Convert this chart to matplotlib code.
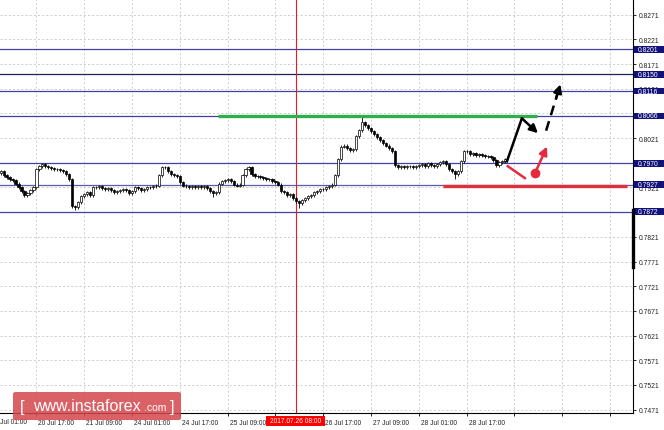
import numpy as np
import matplotlib
matplotlib.use("Agg")
import matplotlib.pyplot as plt
import matplotlib.transforms as mtransforms
from matplotlib.patches import Rectangle, FancyBboxPatch

# hourly closes (bar by bar)
closes = [
    0.7954, 0.7946, 0.7942, 0.7938, 0.7936, 0.7929, 0.7921, 0.7913, 0.7905, 0.7909,
    0.7915, 0.7921, 0.7958, 0.7964, 0.7968, 0.7964, 0.7962, 0.7960, 0.7958, 0.7958,
    0.7956, 0.7954, 0.7948, 0.7938, 0.7883, 0.7881, 0.7891, 0.7903, 0.7907, 0.7911,
    0.7905, 0.7921, 0.7921, 0.7923, 0.7919, 0.7917, 0.7919, 0.7915, 0.7911, 0.7913,
    0.7915, 0.7917, 0.7915, 0.7909, 0.7913, 0.7921, 0.7919, 0.7915, 0.7917, 0.7921,
    0.7921, 0.7923, 0.7925, 0.7946, 0.7962, 0.7962, 0.7954, 0.7948, 0.7946, 0.7944,
    0.7932, 0.7925, 0.7923, 0.7921, 0.7923, 0.7921, 0.7923, 0.7921, 0.7923, 0.7919,
    0.7913, 0.7909, 0.7911, 0.7929, 0.7934, 0.7936, 0.7938, 0.7934, 0.7927, 0.7925,
    0.7927, 0.7946, 0.7958, 0.7962, 0.7948, 0.7944, 0.7944, 0.7942, 0.7940, 0.7938,
    0.7938, 0.7934, 0.7932, 0.7927, 0.7913, 0.7911, 0.7905, 0.7907, 0.7899, 0.7893,
    0.7889, 0.7895, 0.7899, 0.7903, 0.7905, 0.7911, 0.7913, 0.7917, 0.7917, 0.7921,
    0.7923, 0.7927, 0.7946, 0.7978, 0.8004, 0.8006, 0.8000, 0.7996, 0.7998, 0.8025,
    0.8037, 0.8053, 0.8047, 0.8041, 0.8035, 0.8029, 0.8023, 0.8017, 0.8011, 0.8006,
    0.8000, 0.7994, 0.7966, 0.7962, 0.7964, 0.7962, 0.7964, 0.7964, 0.7962, 0.7964,
    0.7966, 0.7968, 0.7964, 0.7970, 0.7966, 0.7964, 0.7968, 0.7972, 0.7974, 0.7968,
    0.7958, 0.7954, 0.7948, 0.7954, 0.7974, 0.7994, 0.7994, 0.7988, 0.7990, 0.7986,
    0.7988, 0.7986, 0.7984, 0.7984, 0.7982, 0.7976, 0.7966, 0.7972, 0.7974, 0.7978,
]
first_open = 0.7950
wick = 0.0003
low_spike_bars = [25, 71, 100, 152]
low_spike_vals = [0.7875, 0.7901, 0.7880, 0.7939]
high_spike_bars = [14, 121]
high_spike_vals = [0.7971, 0.8066]

levels = [0.8201, 0.8150, 0.8116, 0.8066, 0.7970, 0.7927, 0.7872]
level_colors = ["#4040a8", "#20205a", "#4040a8", "#4040a8", "#4040a8", "#5a5ab0", "#4040a8"]
yticks = [0.7471, 0.7521, 0.7571, 0.7621, 0.7671, 0.7721, 0.7771, 0.7821, 0.7871,
          0.7921, 0.7971, 0.8021, 0.8071, 0.8121, 0.8171, 0.8221, 0.8271]
hidden_yticks = [0.7871, 0.7971, 0.8071]   # fully covered by the level boxes
xtick_bars = [-4, 12, 28, 44, 60, 76, 92, 108, 124, 140, 156, 172, 188, 204]
xtick_labels = ["20 Jul 01:00", "20 Jul 17:00", "21 Jul 09:00", "24 Jul 01:00",
                "24 Jul 17:00", "25 Jul 09:00", "", "26 Jul 17:00",
                "27 Jul 09:00", "28 Jul 01:00", "28 Jul 17:00", "", "", ""]
cursor_bar = 99
cursor_label = "2017.07.26 08:00"

# drawn levels and forecast
green_span = (72.8, 179.5); green_level = 0.8066
red_span = (148.1, 209.7); red_level = 0.7924
up_leg_x = [169.5, 174.5]; up_leg_y = [0.7974, 0.8061]
pull_x = [174.5, 179.9]; pull_y = [0.8061, 0.8031]
dash_x = [182.6, 187.4]; dash_y = [0.8036, 0.8130]
red_leg_x = [169.8, 175.5]; red_leg_y = [0.7964, 0.7940]
red_dot = (178.9, 0.7950)
red_arrow_x = [178.9, 182.9]; red_arrow_y = [0.7950, 0.8004]

plt.rcParams["font.family"] = ["Liberation Sans", "DejaVu Sans"]

fig = plt.figure(figsize=(6.64, 4.31), dpi=100)
fig.patch.set_facecolor("white")
ax = fig.add_axes([0, 17 / 431, 633 / 664, 414 / 431])
ax.set_xlim(-0.2, 211.7)
ax.set_ylim(0.74642, 0.83028)

for s in ["top", "left"]:
    ax.spines[s].set_visible(False)
ax.spines["right"].set_linewidth(0.8)
ax.spines["bottom"].set_linewidth(0.8)

# grid
for v in yticks:
    ax.axhline(v, color="#c8c8c8", lw=0.6, dashes=(2.5, 2.5), zorder=0)
for b in xtick_bars:
    ax.axvline(b, color="#c8c8c8", lw=0.6, dashes=(2.5, 2.5), zorder=0)

# level lines
for lv, col in zip(levels, level_colors):
    ax.axhline(lv, color=col, lw=0.9, zorder=1)

ax.axvline(cursor_bar, color="#e02020", lw=0.8, zorder=1)

# candles
x = np.arange(len(closes))
c = np.array(closes)
o = np.array([first_open] + closes[:-1])
hi = np.maximum(o, c) + wick
lo = np.minimum(o, c) - wick
for b, v in zip(low_spike_bars, low_spike_vals):
    lo[b] = v
for b, v in zip(high_spike_bars, high_spike_vals):
    hi[b] = v
ax.vlines(x, lo, hi, color="black", lw=0.6, zorder=2)
body = np.maximum(np.abs(c - o), 0.00009)
faces = ["white" if cc >= oo else "black" for oo, cc in zip(o, c)]
ax.bar(x, body, bottom=np.minimum(o, c), width=0.72, color=faces,
       edgecolor="black", linewidth=0.5, zorder=3)

# green / red drawn levels
ax.plot(green_span, [green_level] * 2, color="#2fae4e", lw=2.4, solid_capstyle="butt", zorder=4)
ax.plot(red_span, [red_level] * 2, color="#e0303c", lw=2.4, solid_capstyle="butt", zorder=4)

# forecast arrows
ax.plot(up_leg_x, up_leg_y, color="black", lw=1.8, zorder=5)
ax.annotate("", xy=(pull_x[1], pull_y[1]), xytext=(pull_x[0], pull_y[0]),
            arrowprops=dict(arrowstyle="-|>", color="black", lw=1.8, mutation_scale=12,
                            shrinkA=0, shrinkB=0), zorder=5)
ax.plot(dash_x, dash_y, color="black", lw=1.8, dashes=(4, 2.5), zorder=5)
ax.annotate("", xy=(dash_x[1], dash_y[1]),
            xytext=(dash_x[1] - 0.3 * (dash_x[1] - dash_x[0]), dash_y[1] - 0.3 * (dash_y[1] - dash_y[0])),
            arrowprops=dict(arrowstyle="-|>", color="black", lw=1.8, mutation_scale=12,
                            shrinkA=0, shrinkB=0), zorder=5)
ax.plot(red_leg_x, red_leg_y, color="#e8283c", lw=1.8, zorder=5)
ax.annotate("", xy=(red_arrow_x[1], red_arrow_y[1]), xytext=(red_arrow_x[0], red_arrow_y[0]),
            arrowprops=dict(arrowstyle="-|>", color="#e8283c", lw=1.8, mutation_scale=12,
                            shrinkA=0, shrinkB=0), zorder=5)
ax.plot([red_dot[0]], [red_dot[1]], "o", color="#e8283c", ms=6, zorder=6)

# axes ticks
ax.yaxis.tick_right()
ax.set_yticks(yticks)
ax.set_yticklabels(["" if v in hidden_yticks else f"{v:.4f}" for v in yticks])
ax.tick_params(axis="y", direction="out", length=2.5, width=0.6, pad=1.5, labelsize=4.9,
               labelcolor="#222222")
ax.set_xticks(xtick_bars[1:])
ax.set_xticklabels(xtick_labels[1:], ha="left")
ax.tick_params(axis="x", direction="out", length=2.5, width=0.6, pad=2, labelsize=4.8,
               labelcolor="#222222")
offset = mtransforms.ScaledTranslation(2 / 100, 0, fig.dpi_scale_trans)
for lbl in ax.get_xticklabels():
    lbl.set_transform(lbl.get_transform() + offset)
ax.text(xtick_bars[0], -0.012, xtick_labels[0],
        transform=mtransforms.blended_transform_factory(ax.transData, ax.transAxes) + offset,
        fontsize=4.8, color="#222222", ha="left", va="top", clip_on=False)

# level price boxes on the right scale
trans = mtransforms.blended_transform_factory(ax.transAxes, ax.transData)
bh = 6.5 / 4937
for lv in levels:
    ax.add_patch(Rectangle((1.0015, lv - bh / 2), 30 / 633, bh, transform=trans,
                           facecolor="#12127a", edgecolor="none", clip_on=False, zorder=7))
    ax.text(1.0 + 5 / 633, lv, f"{lv:.4f}", transform=trans, color="white", fontsize=4.9,
            ha="left", va="center", clip_on=False, zorder=8)
ax.plot([1.0, 1.0], [0.7876, 0.7759], transform=trans, color="black", lw=2.4,
        clip_on=False, zorder=7)

# cursor date label
fig.patches.append(Rectangle((266 / 664, (431 - 427) / 431), 59 / 664, 10 / 431,
                             transform=fig.transFigure, facecolor="#ff0000", edgecolor="none", zorder=5))
fig.text(295.5 / 664, (431 - 422) / 431, cursor_label, color="white", fontsize=4.8,
         ha="center", va="center", zorder=6)

# watermark
fig.patches.append(FancyBboxPatch((13 / 664, (431 - 421) / 431), 168 / 664, 28 / 431,
                                  boxstyle="round,pad=0,rounding_size=0.004",
                                  transform=fig.transFigure, facecolor="#d4474c",
                                  edgecolor="none", alpha=0.85, zorder=5))
fig.text(20 / 664, (431 - 408) / 431, "[", color="white", fontsize=12, ha="left", va="center", zorder=6)
fig.text(33 / 664, (431 - 407) / 431, "www.instaforex", color="white", fontsize=11.5,
         ha="left", va="center", zorder=6)
fig.text(144 / 664, (431 - 408) / 431, ".com", color="white", fontsize=7.5,
         ha="left", va="center", zorder=6)
fig.text(170 / 664, (431 - 408) / 431, "]", color="white", fontsize=12, ha="left", va="center", zorder=6)

fig.savefig("out.png", dpi=100)
